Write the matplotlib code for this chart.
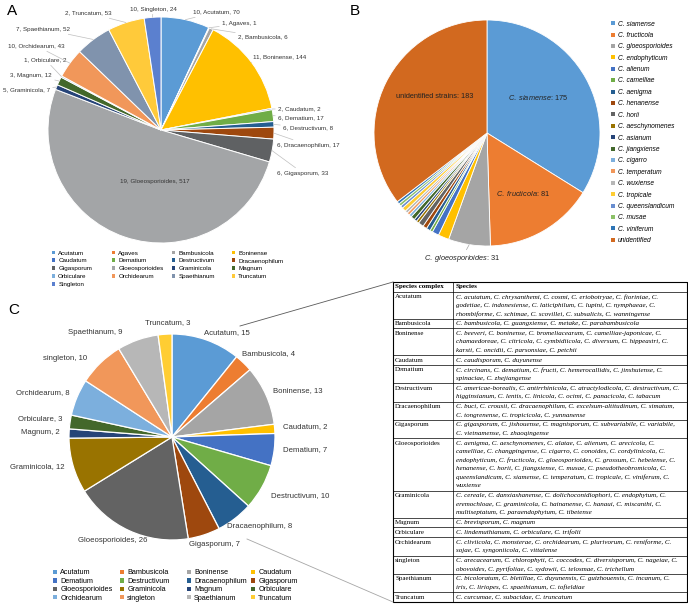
import matplotlib
matplotlib.use("Agg")
import matplotlib.pyplot as plt
from matplotlib.patches import Patch
import numpy as np

plt.rcParams['font.family'] = ['Liberation Sans', 'DejaVu Sans']
plt.rcParams['mathtext.fontset'] = 'custom'
plt.rcParams['mathtext.it'] = 'Liberation Sans:italic'
plt.rcParams['mathtext.rm'] = 'Liberation Sans'

W, H = 688, 612

# ---- panel A: species complexes (number of species, strains)
a_names = ['Acutatum', 'Agaves', 'Bambusicola', 'Boninense', 'Caudatum', 'Dematium',
           'Destructivum', 'Dracaenophilum', 'Gigasporum', 'Gloeosporioides', 'Graminicola',
           'Magnum', 'Orbiculare', 'Orchidearum', 'Spaethianum', 'Truncatum', 'Singleton']
a_species = [10, 1, 2, 11, 2, 6, 6, 6, 6, 19, 5, 3, 1, 10, 7, 2, 10]
a_strains = [70, 1, 6, 144, 2, 17, 8, 17, 33, 517, 7, 12, 2, 43, 52, 53, 24]
a_colors = ['#5B9BD5', '#ED7D31', '#A5A5A5', '#FFC000', '#4472C4', '#70AD47', '#255E91',
            '#9E480E', '#5F6163', '#A3A5A7', '#264478', '#43682B', '#7CAFDD', '#F1975A',
            '#8093AD', '#FFCA3A', '#5B80CF']

# ---- panel B: Gloeosporioides complex strains
b_names = ['siamense', 'fructicola', 'gloeosporioides', 'endophyticum', 'alienum', 'camelliae',
           'aenigma', 'henanense', 'horii', 'aeschynomenes', 'asianum', 'jiangxiense', 'cigarro',
           'temperatum', 'wuxiense', 'tropicale', 'queenslandicum', 'musae', 'viniferum',
           'unidentified']
b_counts = [175, 81, 31, 8, 5, 2, 3, 3, 4, 2, 2, 3, 2, 2, 2, 3, 2, 2, 2, 183]
b_colors = ['#5B9BD5', '#ED7D31', '#A5A5A5', '#FFC000', '#4472C4', '#70AD47', '#255E91',
            '#9E480E', '#636363', '#997300', '#264478', '#43682B', '#7CAFDD', '#F1975A',
            '#B7B7B7', '#FFCD33', '#698ED0', '#8CC168', '#2E75B6', '#D2691F']

# ---- panel C: species per complex
c_names = ['Acutatum', 'Bambusicola', 'Boninense', 'Caudatum', 'Dematium', 'Destructivum',
           'Dracaenophilum', 'Gigasporum', 'Gloeosporioides', 'Graminicola', 'Magnum',
           'Orbiculare', 'Orchidearum', 'singleton', 'Spaethianum', 'Truncatum']
c_counts = [15, 4, 13, 2, 7, 10, 8, 7, 26, 12, 2, 3, 8, 10, 9, 3]
c_colors = ['#5B9BD5', '#ED7D31', '#A5A5A5', '#FFC000', '#4472C4', '#70AD47', '#255E91',
            '#9E480E', '#636363', '#997300', '#264478', '#43682B', '#7CAFDD', '#F1975A',
            '#B7B7B7', '#FFCD33']

# ---- table
tab_header = ['Species complex', 'Species']
tab_complex = ['Acutatum', 'Bambusicola', 'Boninense', 'Caudatum', 'Dematium', 'Destructivum',
               'Dracaenophilum', 'Gigasporum', 'Gloeosporioides', 'Graminicola', 'Magnum',
               'Orbiculare', 'Orchidearum', 'singleton', 'Spaethianum', 'Truncatum']
tab_species = [
    ['C. acutatum, C. chrysanthemi, C. cosmi, C. eriobotryae, C. fioriniae, C.',
     'godetiae, C. indonesiense, C. laticiphilum, C. lupini, C. nymphaeae, C.',
     'rhombiforme, C. schimae, C. scovillei, C. subsalicis, C. wanningense'],
    ['C. bambusicola, C. guangxiense, C. metake, C. parabambusicola'],
    ['C. beeveri, C. boninense, C. bromeliacearum, C. camelliae-japonicae, C.',
     'chamaedoreae, C. citricola, C. cymbidiicola, C. diversum, C. hippeastri, C.',
     'karsti, C. oncidii, C. parsonsiae, C. petchii'],
    ['C. caudisporum, C. duyunense'],
    ['C. circinans, C. dematium, C. fructi, C. hemerocallidis, C. jinshuiense, C.',
     'spinaciae, C. zhejiangense'],
    ['C. americae-borealis, C. antirrhinicola, C. atractylodicola, C. destructivum, C.',
     'higginsianum, C. lentis, C. linicola, C. ocimi, C. panacicola, C. tabacum'],
    ['C. buci, C. crousii, C. dracaenophilum, C. excelsum-altitudinum, C. simatum,',
     'C. tongrenense, C. tropicicola, C. yunnanense'],
    ['C. gigasporum, C. jishouense, C. magnisporum, C. subvariabile, C. variabile,',
     'C. vietnamense, C. zhaoqingense'],
    ['C. aenigma, C. aeschynomenes, C. alatae, C. alienum, C. arecicola, C.',
     'camelliae, C. changpingense, C. cigarro, C. conoides, C. cordylinicola, C.',
     'endophyticum, C. fructicola, C. gloeosporioides, C. grossum, C. hebeiense, C.',
     'henanense, C. horii, C. jiangxiense, C. musae, C. pseudotheobromicola, C.',
     'queenslandicum, C. siamense, C. temperatum, C. tropicale, C. viniferum, C.',
     'wuxiense'],
    ['C. cereale, C. danxiashanense, C. dolichoconidiophori, C. endophytum, C.',
     'eremochloae, C. graminicola, C. hainanense, C. hanaui, C. miscanthi, C.',
     'multiseptatum, C. paraendophytum, C. tibetense'],
    ['C. brevisporum, C. magnum'],
    ['C. lindemuthianum, C. orbiculare, C. trifolii'],
    ['C. cliviicola, C. monsterae, C. orchidearum, C. plurivorum, C. reniforme, C.',
     'sojae, C. syngoniicola, C. vittalense'],
    ['C. arecacearum, C. chlorophyti, C. coccodes, C. diversisporum, C. nageiae, C.',
     'obovoides, C. pyrifoliae, C. sydowii, C. telosmae, C. trichellum'],
    ['C. bicoloratum, C. bletillae, C. duyunensis, C. guizhouensis, C. incanum, C.',
     'iris, C. liriopes, C. spaethianum, C. tofieldiae'],
    ['C. curcumae, C. subacidae, C. truncatum'],
]

fig = plt.figure(figsize=(W / 100, H / 100), dpi=100)
over = fig.add_axes([0, 0, 1, 1])
over.set_xlim(0, W)
over.set_ylim(H, 0)
over.axis('off')
over.set_zorder(10)


def pie_axes(cx, cy, r):
    m = 1.04
    ax = fig.add_axes([(cx - r * m) / W, 1 - (cy + r * m) / H, 2 * r * m / W, 2 * r * m / H])
    return ax


def rim(vals, i, rr=1.0):
    mid = (sum(vals[:i]) + vals[i] / 2) / sum(vals)
    ang = np.radians(90 - 360 * mid)
    return rr * np.cos(ang), rr * np.sin(ang)


def finish_pie(ax):
    ax.set_xlim(-1.04, 1.04)
    ax.set_ylim(-1.04, 1.04)
    ax.set_frame_on(False)
    ax.set_xticks([])
    ax.set_yticks([])


def grid_legend(names, colors, x_cols, y_top, fs, spacing):
    handles = [Patch(facecolor=c, edgecolor='none') for c in colors]
    for j, xc in enumerate(x_cols):
        fig.legend(handles[j::4], names[j::4], loc='upper left',
                   bbox_to_anchor=(xc / W, 1 - y_top / H), frameon=False,
                   fontsize=fs, handlelength=0.55, handleheight=0.55,
                   handletextpad=0.45, labelspacing=spacing, borderpad=0,
                   borderaxespad=0)


# ---------------- A
axA = pie_axes(161, 130, 113)
axA.pie(a_strains, colors=a_colors, startangle=90, counterclock=False,
        wedgeprops=dict(edgecolor='white', linewidth=0.7))
finish_pie(axA)

a_pos = {
    'Acutatum': (193, 12, 'left'), 'Agaves': (222, 24, 'left'),
    'Bambusicola': (238, 37, 'left'), 'Boninense': (253, 57, 'left'),
    'Caudatum': (278, 109, 'left'), 'Dematium': (278, 118, 'left'),
    'Destructivum': (283, 128, 'left'), 'Dracaenophilum': (277, 145, 'left'),
    'Gigasporum': (277, 173, 'left'), 'Graminicola': (50, 90, 'right'),
    'Magnum': (52, 75, 'right'), 'Orbiculare': (67, 60, 'right'),
    'Orchidearum': (65, 46, 'right'), 'Spaethianum': (70, 29, 'right'),
    'Truncatum': (112, 13, 'right'), 'Singleton': (153, 9, 'center'),
}
for i, name in enumerate(a_names):
    lab = f'{a_species[i]}, {name}, {a_strains[i]}'
    if name == 'Gloeosporioides':
        over.text(155, 182, lab, fontsize=4.5, ha='center', va='center', color='#333333')
        continue
    x, y, ha = a_pos[name]
    axA.annotate(lab, xy=rim(a_strains, i), xycoords='data', xytext=(x, y),
                 textcoords=over.transData, ha=ha, va='center', fontsize=4.5,
                 color='#333333',
                 arrowprops=dict(arrowstyle='-', color='#BFBFBF', lw=0.5,
                                 shrinkA=0, shrinkB=0))

grid_legend(a_names, a_colors, [52, 112, 172, 232], 250.5, 4.5, 0.45)

# ---------------- B
axB = pie_axes(487, 133, 113)
axB.pie(b_counts, colors=b_colors, startangle=90, counterclock=False,
        wedgeprops=dict(edgecolor='white', linewidth=0.6))
finish_pie(axB)
over.text(435, 97, f'unidentified strains: {b_counts[-1]}', fontsize=5.3,
          ha='center', va='center', color='#222222')
over.text(538, 97, r'$\it{C.\ siamense}$: ' + str(b_counts[0]), fontsize=5.3,
          ha='center', va='center', color='#222222')
over.text(523, 194, r'$\it{C.\ fructicola}$: ' + str(b_counts[1]), fontsize=5.3,
          ha='center', va='center', color='#222222')
axB.annotate(r'$\it{C.\ gloeosporioides}$: ' + str(b_counts[2]), xy=rim(b_counts, 2),
             xycoords='data', xytext=(462, 258), textcoords=over.transData,
             ha='center', va='center', fontsize=5.3, color='#222222',
             arrowprops=dict(arrowstyle='-', color='#A6A6A6', lw=0.5, shrinkA=0, shrinkB=0))

b_handles = [Patch(facecolor=c, edgecolor='none') for c in b_colors]
b_labels = ['C. ' + n for n in b_names[:-1]] + [b_names[-1]]
fig.legend(b_handles, b_labels, loc='upper left', bbox_to_anchor=(611 / W, 1 - 20.5 / H),
           frameon=False, prop=dict(family='Liberation Sans', style='italic', size=4.8),
           handlelength=0.55, handleheight=0.55, handletextpad=0.5,
           labelspacing=0.66, borderpad=0, borderaxespad=0)

# ---------------- C
axC = pie_axes(172, 437, 103)
axC.pie(c_counts, colors=c_colors, startangle=90, counterclock=False,
        wedgeprops=dict(edgecolor='white', linewidth=0.9))
finish_pie(axC)

c_pos = {
    'Acutatum': (204, 333, 'left'), 'Bambusicola': (242, 354, 'left'),
    'Boninense': (273, 391, 'left'), 'Caudatum': (283, 427, 'left'),
    'Dematium': (283, 450, 'left'), 'Destructivum': (271, 496, 'left'),
    'Dracaenophilum': (227, 527, 'left'), 'Gigasporum': (189, 545, 'left'),
    'Gloeosporioides': (147, 541, 'right'), 'Graminicola': (65, 467, 'right'),
    'Magnum': (60, 432, 'right'), 'Orbiculare': (62, 419, 'right'),
    'Orchidearum': (70, 393, 'right'), 'singleton': (87, 358, 'right'),
    'Spaethianum': (123, 333, 'right'), 'Truncatum': (168, 323, 'center'),
}
for i, name in enumerate(c_names):
    x, y, ha = c_pos[name]
    over.text(x, y, f'{name}, {c_counts[i]}', fontsize=5.6, ha=ha, va='center',
              color='#333333')

grid_legend(c_names, c_colors, [53, 120, 187, 251], 569.5, 5.2, 0.2)

# ---------------- table
tx0, txm, tx1 = 393, 453, 687
ty0, ty1 = 282, 602
rows = [(tab_header[0], [tab_header[1]])] + list(zip(tab_complex, tab_species))
nl = np.array([len(r[1]) for r in rows])
units = nl * 8.6 + 1.3
scale = (ty1 - ty0) / units.sum()
hts = units * scale
lh = 8.6 * scale
tfs = 5.0
y = ty0
for k, (cx_name, lines) in enumerate(rows):
    h = hts[k]
    n = len(lines)
    ymid = y + h / 2
    bold = 'bold' if k == 0 else 'normal'
    over.text(tx0 + 2, ymid - (n - 1) / 2 * lh if k > 0 else ymid, cx_name,
              family='Liberation Serif', fontsize=tfs, weight=bold, va='center', ha='left')
    for j, ln in enumerate(lines):
        over.text(txm + 2.5, ymid + (j - (n - 1) / 2) * lh, ln, family='Liberation Serif',
                  fontsize=tfs, weight=bold, style='normal' if k == 0 else 'italic',
                  va='center', ha='left')
    if k > 0:
        over.plot([tx0, tx1], [y, y], color='black', lw=0.5)
    y += h
over.plot([tx0, tx1, tx1, tx0, tx0], [ty0, ty0, ty1, ty1, ty0], color='black', lw=0.8)
over.plot([txm, txm], [ty0, ty1], color='black', lw=0.5)

# connectors from C to table
over.plot([240, tx0], [326, ty0], color='#595959', lw=0.6)
over.plot([247, tx0], [539, ty1], color='#A6A6A6', lw=0.6)

# panel letters
over.text(7, 11, 'A', fontsize=11, va='center', ha='left')
over.text(350, 11, 'B', fontsize=11, va='center', ha='left')
over.text(8, 310, 'C', fontsize=11, va='center', ha='left')

fig.savefig('out.png', dpi=100)
